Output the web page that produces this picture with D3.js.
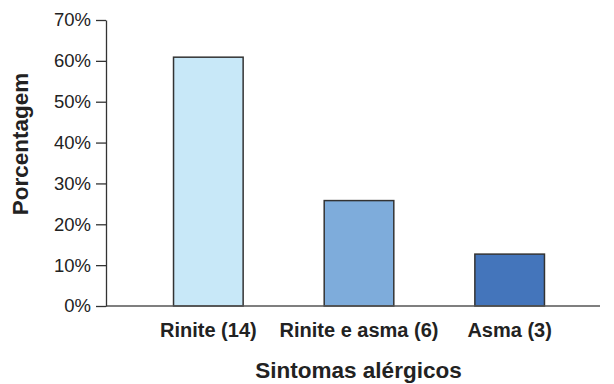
<!DOCTYPE html>
<html><head><meta charset="utf-8">
<script src="https://cdn.jsdelivr.net/npm/d3@7"></script>
<style>body{margin:0;background:#fff}svg{display:block}text{font-family:"Liberation Sans",Arial,sans-serif}</style>
</head><body>
<svg id="c" width="614" height="384"></svg>
<script>
const categories = ["Rinite (14)", "Rinite e asma (6)", "Asma (3)"];
const values = [60.9, 25.8, 12.7];
const colors = ["#c8e8f8", "#7eacdb", "#4475bb"];
const yTicks = [0, 10, 20, 30, 40, 50, 60, 70];

const svg = d3.select("#c");
const y = d3.scaleLinear().domain([0, 70]).range([306, 20]);
const x = d3.scaleBand().domain(categories).range([133, 585]).paddingInner(0.538).paddingOuter(0.269);

// bars
svg.selectAll("rect.bar").data(categories).join("rect")
  .attr("class", "bar")
  .attr("x", d => x(d))
  .attr("width", x.bandwidth())
  .attr("y", (d, i) => y(values[i]))
  .attr("height", (d, i) => y(0) - y(values[i]))
  .attr("fill", (d, i) => colors[i])
  .attr("stroke", "#333")
  .attr("stroke-width", 1.5);

// x axis line
svg.append("line").attr("x1", 106).attr("x2", 600).attr("y1", y(0)).attr("y2", y(0))
  .attr("stroke", "#555").attr("stroke-width", 1.6);

// y axis
const yAxis = d3.axisLeft(y).tickValues(yTicks).tickFormat(d => d + "%").tickSize(10).tickSizeOuter(0).tickPadding(5);
const gy = svg.append("g").attr("transform", "translate(106,0)").call(yAxis);
gy.select(".domain").attr("stroke", "#333").attr("stroke-width", 1.3);
gy.selectAll(".tick line").attr("stroke", "#333").attr("stroke-width", 1.3);
gy.selectAll(".tick text").attr("font-size", 18.5).attr("fill", "#222").attr("font-family", "Liberation Sans, Arial, sans-serif");

// category labels
svg.selectAll("text.cat").data(categories).join("text")
  .attr("class", "cat")
  .attr("x", d => x(d) + x.bandwidth() / 2)
  .attr("y", 337)
  .attr("text-anchor", "middle")
  .attr("font-size", 20).attr("font-weight", "bold").attr("fill", "#222")
  .text(d => d);

// axis titles
svg.append("text").attr("x", 358.5).attr("y", 378).attr("text-anchor", "middle")
  .attr("font-size", 22.5).attr("font-weight", "bold").attr("fill", "#222").text("Sintomas alérgicos");
svg.append("text").attr("transform", "translate(28,144) rotate(-90)").attr("text-anchor", "middle")
  .attr("font-size", 22.5).attr("font-weight", "bold").attr("fill", "#222").text("Porcentagem");
</script>
</body></html>
